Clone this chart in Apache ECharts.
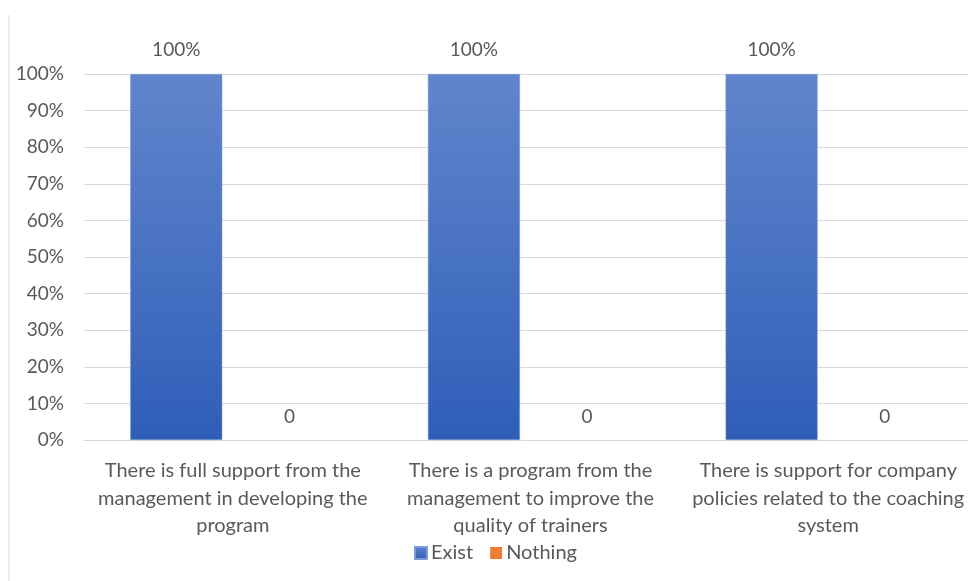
<!DOCTYPE html>
<html>
<head>
<meta charset="utf-8">
<script src="https://cdn.jsdelivr.net/npm/echarts@6/dist/echarts.min.js"></script>
<style>
  html, body { margin: 0; padding: 0; background: #fff; }
  #chart { width: 968px; height: 581px; }
</style>
</head>
<body>
<div id="chart"></div>
<script>
// data
const categories = [
  'There is full support from the\nmanagement in developing the\nprogram',
  'There is a program from the\nmanagement to improve the\nquality of trainers',
  'There is support for company\npolicies related to the coaching\nsystem'
]
const existValues = [100, 100, 100]
const nothingValues = [0, 0, 0]
const seriesNames = ['Exist', 'Nothing']

const font = 'Lato, "Open Sans", sans-serif'
const textColor = '#595959'

const myechart = echarts.init(document.getElementById('chart'))
const option = {
  animation: false,
  textStyle: { fontFamily: font },
  legend: {
    data: seriesNames,
    top: 538,
    left: 409,
    itemWidth: 12,
    itemHeight: 12,
    itemGap: 17,
    icon: 'rect',
    textStyle: { color: textColor, fontSize: 20, fontFamily: font, padding: [0, 0, 0, -1] }
  },
  grid: {
    top: 74,
    left: 84,
    width: 893,
    height: 366,
    outerBoundsMode: 'none',
    containLabel: false
  },
  xAxis: {
    type: 'category',
    data: categories,
    axisTick: { show: false },
    axisLine: { lineStyle: { color: '#d9d9d9', width: 1 } },
    axisLabel: {
      color: textColor,
      fontSize: 20,
      fontFamily: font,
      lineHeight: 27.5,
      margin: 17,
      interval: 0,
      hideOverlap: false
    }
  },
  yAxis: {
    type: 'value',
    min: 0,
    max: 100,
    interval: 10,
    axisLine: { show: false },
    axisTick: { show: false },
    splitLine: { lineStyle: { color: '#d9d9d9', width: 1 } },
    axisLabel: {
      color: textColor,
      fontSize: 19,
      fontFamily: font,
      margin: 20,
      formatter: '{value}%'
    }
  },
  graphic: [{
    type: 'line',
    shape: { x1: 9, y1: 15, x2: 9, y2: 581 },
    style: { stroke: '#d9d9d9', lineWidth: 1 }
  }],
  series: [{
    name: seriesNames[0],
    type: 'bar',
    data: existValues,
    barWidth: 92,
    barGap: '23%',
    itemStyle: {
      color: new echarts.graphic.LinearGradient(0, 0, 0, 1, [
        { offset: 0, color: '#6185cc' },
        { offset: 1, color: '#2f5eb8' }
      ]),
      borderColor: '#7d9ad6',
      borderWidth: 0.5
    },
    label: {
      show: true,
      position: 'top',
      distance: 15,
      color: textColor,
      fontSize: 19,
      fontFamily: font,
      formatter: '{c}%'
    }
  }, {
    name: seriesNames[1],
    type: 'bar',
    data: nothingValues,
    barWidth: 92,
    itemStyle: { color: '#ed7d31' },
    label: {
      show: true,
      position: 'top',
      distance: 14,
      color: textColor,
      fontSize: 19,
      fontFamily: font,
      formatter: '{c}'
    }
  }]
}
myechart.setOption(option)
</script>
</body>
</html>
